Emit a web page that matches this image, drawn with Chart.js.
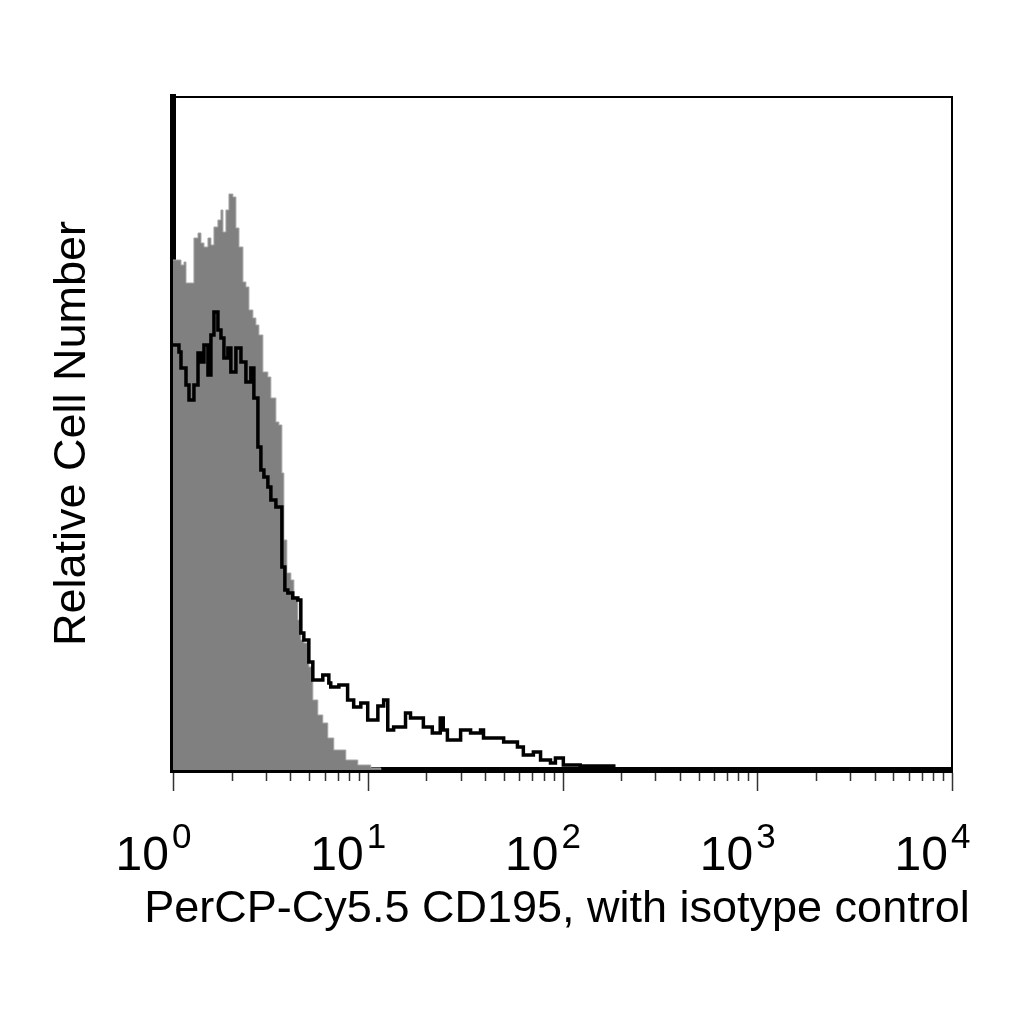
<!DOCTYPE html>
<html>
<head>
<meta charset="utf-8">
<style>
  html, body { margin: 0; padding: 0; background: #ffffff; }
  #wrap { width: 1024px; height: 1024px; }
  canvas { display: block; }
</style>
<script src="https://cdn.jsdelivr.net/npm/chart.js@4/dist/chart.umd.min.js"></script>
</head>
<body>
<div id="wrap"><canvas id="c" width="1024" height="1024"></canvas></div>
<script>
// ---- Data ----
// Isotype control (grey filled histogram): channel start value and relative count
const isoX = [1, 1.099, 1.139, 1.166, 1.281, 1.344, 1.392, 1.442, 1.512, 1.566, 1.623, 1.701,
  1.763, 1.805, 1.870, 1.938, 2.031, 2.104, 2.181, 2.286, 2.368, 2.454, 2.572, 2.665,
  2.761, 2.894, 3.070, 3.181, 3.375, 3.497, 3.623, 3.709, 3.842, 4.029, 4.174, 4.375,
  4.533, 4.697, 4.983, 5.224, 5.540, 5.877, 6.235, 6.693, 7.714, 8.887, 10.36, 11.66];
const isoY = [510, 505, 508, 487, 532, 537, 527, 523, 532, 525, 543, 550,
  560, 538, 560, 576, 573, 542, 523, 488, 483, 460, 452, 445,
  435, 398, 393, 372, 348, 345, 297, 230, 197, 190, 173, 150,
  130, 127, 103, 70, 55, 47, 32, 20, 10, 5, 2, 0];

// PerCP-Cy5.5 CD195 (black outline histogram)
const cdX = [1, 1.073, 1.099, 1.166, 1.208, 1.281, 1.344, 1.392, 1.442, 1.512,
  1.566, 1.623, 1.701, 1.763, 1.826, 1.914, 1.982, 2.104, 2.233, 2.368,
  2.511, 2.602, 2.729, 2.827, 2.929, 3.070, 3.181, 3.375, 3.623, 3.753,
  3.888, 4.119, 4.375, 4.533, 4.697, 4.983, 5.224, 5.877, 6.312, 6.455,
  7.108, 7.881, 8.467, 9.212, 9.996, 11.27, 12.07, 12.67, 13.58, 15.63,
  16.58, 19.30, 21.45, 23.56, 24.41, 25.64, 29.98, 33.73, 37.95, 39.30,
  49.88, 58.70, 62.94, 70.87, 77.15, 86.76, 91.96, 101.0, 123.3, 183.3];
const cdY = [425, 418, 402, 385, 370, 385, 417, 408, 425, 395,
  435, 458, 440, 432, 412, 422, 398, 422, 408, 388,
  402, 372, 323, 300, 293, 283, 270, 263, 203, 180,
  177, 172, 170, 137, 130, 108, 90, 95, 87, 83,
  85, 70, 63, 67, 50, 64, 70, 40, 43, 57,
  52, 43, 37, 52, 40, 30, 40, 37, 40, 32,
  28, 23, 15, 18, 10, 7, 12, 5, 4, 0];

// Axis ticks
const majorTicks = [1, 10, 100, 1000, 10000];
const tickExponents = ['0', '1', '2', '3', '4'];
const minorMultipliers = [2, 3, 4, 5, 6, 7, 8, 9];
const xTitle = 'PerCP-Cy5.5 CD195, with isotype control';
const yTitle = 'Relative Cell Number';
const yMax = 673;

const toPoints = (xs, ys) => xs.map((x, i) => ({ x: x, y: ys[i] }));

const decoPlugin = {
  id: 'deco',
  afterDraw(chart) {
    const ctx = chart.ctx;
    const xs = chart.scales.x;
    const area = chart.chartArea;
    ctx.save();
    // thin frame top & right
    ctx.strokeStyle = '#000';
    ctx.lineWidth = 2;
    ctx.beginPath();
    ctx.moveTo(area.left, area.top);
    ctx.lineTo(area.right, area.top);
    ctx.lineTo(area.right, area.bottom);
    ctx.stroke();
    // tick marks hanging below the axis
    const axisBottom = area.bottom + 3;
    ctx.strokeStyle = '#333';
    ctx.lineWidth = 1.5;
    ctx.beginPath();
    majorTicks.forEach((v, i) => {
      const px = Math.round(xs.getPixelForValue(v)) + 0.5;
      ctx.moveTo(px, axisBottom);
      ctx.lineTo(px, axisBottom + 18);
      if (i < majorTicks.length - 1) {
        minorMultipliers.forEach(m => {
          const p = Math.round(xs.getPixelForValue(v * m)) + 0.5;
          ctx.moveTo(p, axisBottom);
          ctx.lineTo(p, axisBottom + 8);
        });
      }
    });
    ctx.stroke();
    // tick labels 10^k
    ctx.fillStyle = '#000';
    ctx.textBaseline = 'alphabetic';
    majorTicks.forEach((v, i) => {
      const px = xs.getPixelForValue(v);
      ctx.font = '48px "Liberation Sans", Arial, sans-serif';
      ctx.textAlign = 'right';
      ctx.fillText('10', px - 4, 870);
      ctx.font = '35px "Liberation Sans", Arial, sans-serif';
      ctx.textAlign = 'left';
      ctx.fillText(tickExponents[i], px - 1, 848);
    });
    // x axis title
    ctx.font = '45px "Liberation Sans", Arial, sans-serif';
    ctx.textAlign = 'center';
    ctx.fillText(xTitle, 557, 922);
    ctx.restore();
  }
};

new Chart(document.getElementById('c'), {
  type: 'line',
  data: {
    datasets: [
      {
        label: 'CD195',
        data: toPoints(cdX, cdY),
        stepped: true,
        borderColor: '#000000',
        borderWidth: 3.5,
        fill: false,
        pointRadius: 0,
        order: 0
      },
      {
        label: 'Isotype control',
        data: toPoints(isoX, isoY),
        stepped: true,
        borderColor: '#a6a6a6',
        borderWidth: 1,
        backgroundColor: '#808080',
        fill: 'origin',
        pointRadius: 0,
        order: 1
      }
    ]
  },
  options: {
    responsive: false,
    devicePixelRatio: 1,
    animation: false,
    layout: { padding: { left: 0, right: 72, top: 97, bottom: 254 } },
    plugins: { legend: { display: false }, tooltip: { enabled: false } },
    scales: {
      x: {
        type: 'logarithmic',
        min: 1,
        max: 10000,
        grid: { display: false, drawTicks: false },
        ticks: { display: false },
        border: { display: true, color: '#000', width: 6 },
        title: { display: false }
      },
      y: {
        type: 'linear',
        min: 0,
        max: yMax,
        grid: { display: false, drawTicks: false },
        ticks: { display: false },
        border: { display: true, color: '#000', width: 6 },
        title: {
          display: true,
          text: yTitle,
          color: '#000',
          font: { family: '"Liberation Sans", Arial, sans-serif', size: 45, lineHeight: 1.2 },
          padding: { top: 46, bottom: 73 }
        }
      }
    }
  },
  plugins: [decoPlugin]
});
</script>
</body>
</html>
